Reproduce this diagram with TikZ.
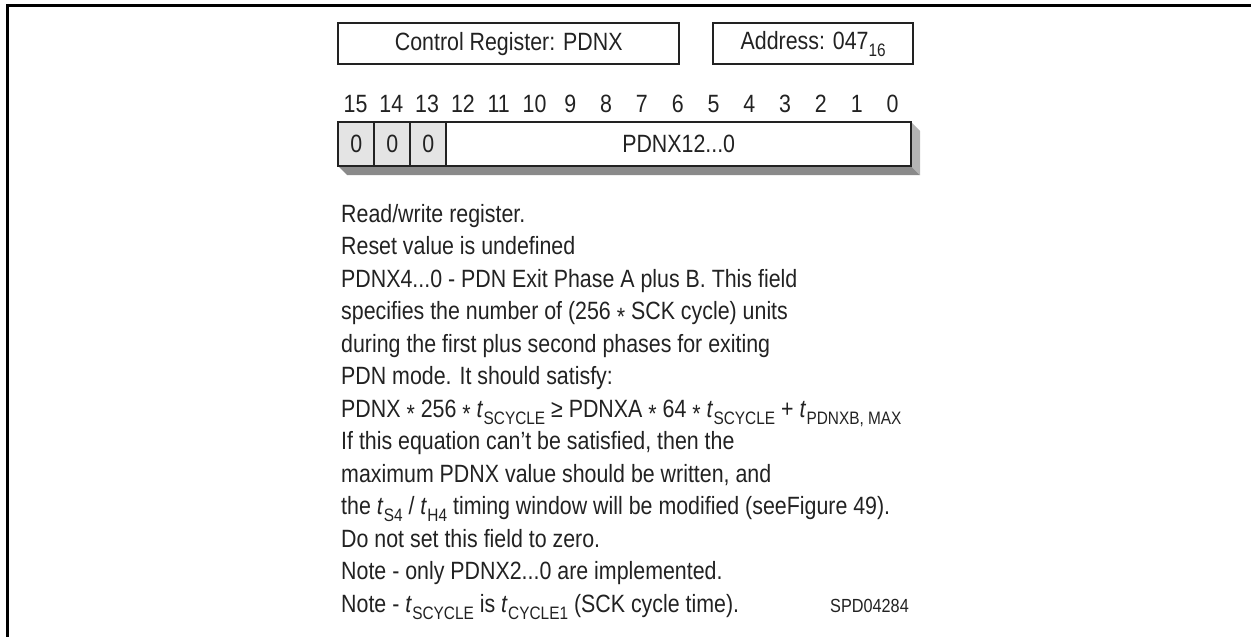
\documentclass[tikz,border=0pt]{standalone}
\usepackage{fontspec}
\setmainfont[FakeStretch=0.855]{Liberation Sans}
\newcommand\tsub[1]{\textit{t}\kern0.3pt\raisebox{-0.28em}{\fontsize{18}{18}\selectfont #1}}
\newcommand\mul{\raisebox{-0.22em}{*}}
\definecolor{cellgray}{HTML}{E4E4E4}
\definecolor{shbot}{HTML}{8A8A8A}
\definecolor{shright}{HTML}{B4B4B4}
\definecolor{ink}{HTML}{222222}
\tikzset{
  body/.style={font=\fontsize{25}{30}\selectfont, inner sep=0pt, text=ink},
  tbox/.style={draw=ink, line width=2.4pt, inner sep=0pt, anchor=north west,
    font=\fontsize{25}{30}\selectfont, text=ink},
  cellbox/.style={draw=ink, line width=2.4pt, inner sep=0pt, anchor=north west,
    minimum height=44, font=\fontsize{25}{30}\selectfont, text=ink},
  bitnum/.style={font=\fontsize{25}{30}\selectfont, inner sep=0pt, anchor=base, text=ink},
  txt/.style={body, anchor=base west},
}
\begin{document}
\begin{tikzpicture}[x=1pt,y=-1pt]
\useasboundingbox (0,0) rectangle (1251,637);
\draw[line width=3pt] (7,637) -- (7,5) -- (1251,5);

% title boxes
\node[tbox, minimum width=341, minimum height=41] (ctl) at (337,22) {Control Register: PDNX};
\node[tbox, minimum width=200, minimum height=41] (adr) at (712,22)
  {Address: 047\raisebox{-0.28em}{\fontsize{18}{18}\selectfont 16}};

% bit numbers
\foreach \i in {0,...,15} {
  \node[bitnum] (b\i) at ({337+35.8*(15-\i)+18.5},112) {\i};
}

% 3D shadow of register
\fill[shbot] (337,165) -- (910,165) -- (920,175) -- (347,175) -- cycle;
\fill[shright] (910,121) -- (920,131) -- (920,175) -- (910,165) -- cycle;

% register cells
\node[cellbox, fill=cellgray, minimum width=36] (c15) at (337,121) {0};
\node[cellbox, fill=cellgray, minimum width=36] (c14) at (373,121) {0};
\node[cellbox, fill=cellgray, minimum width=36] (c13) at (409,121) {0};
\node[cellbox, fill=white, minimum width=465] (fld) at (445,121) {PDNX12...0};

% description
\node[txt] (l1) at (341,222) {Read/write register.};
\node[txt] (l2) at (341,254.5) {Reset value is undefined};
\node[txt] (l3) at (341,287) {PDNX4...0 - PDN Exit Phase A plus B. This field};
\node[txt] (l4) at (341,319.5) {specifies the number of (256 \mul{} SCK cycle) units};
\node[txt] (l5) at (341,352) {during the first plus second phases for exiting};
\node[txt] (l6) at (341,384.5) {PDN mode. It should satisfy:};
\node[txt] (l7) at (341,417) {PDNX \mul{} 256 \mul{} \tsub{SCYCLE} ≥ PDNXA \mul{} 64 \mul{} \tsub{SCYCLE} + \tsub{PDNXB, MAX}};
\node[txt] (l8) at (341,449.5) {If this equation can’t be satisfied, then the};
\node[txt] (l9) at (341,482) {maximum PDNX value should be written, and};
\node[txt] (l10) at (341,514.5) {the \tsub{S4} / \tsub{H4} timing window will be modified (seeFigure 49).};
\node[txt] (l11) at (341,547) {Do not set this field to zero.};
\node[txt] (l12) at (341,579.5) {Note - only PDNX2...0 are implemented.};
\node[txt] (l13) at (341,612) {Note - \tsub{SCYCLE} is \tsub{CYCLE1} (SCK cycle time).};
\node[body, anchor=base east, font=\fontsize{19}{22}\selectfont] (spd) at (909,612) {SPD04284};
\end{tikzpicture}
\end{document}
